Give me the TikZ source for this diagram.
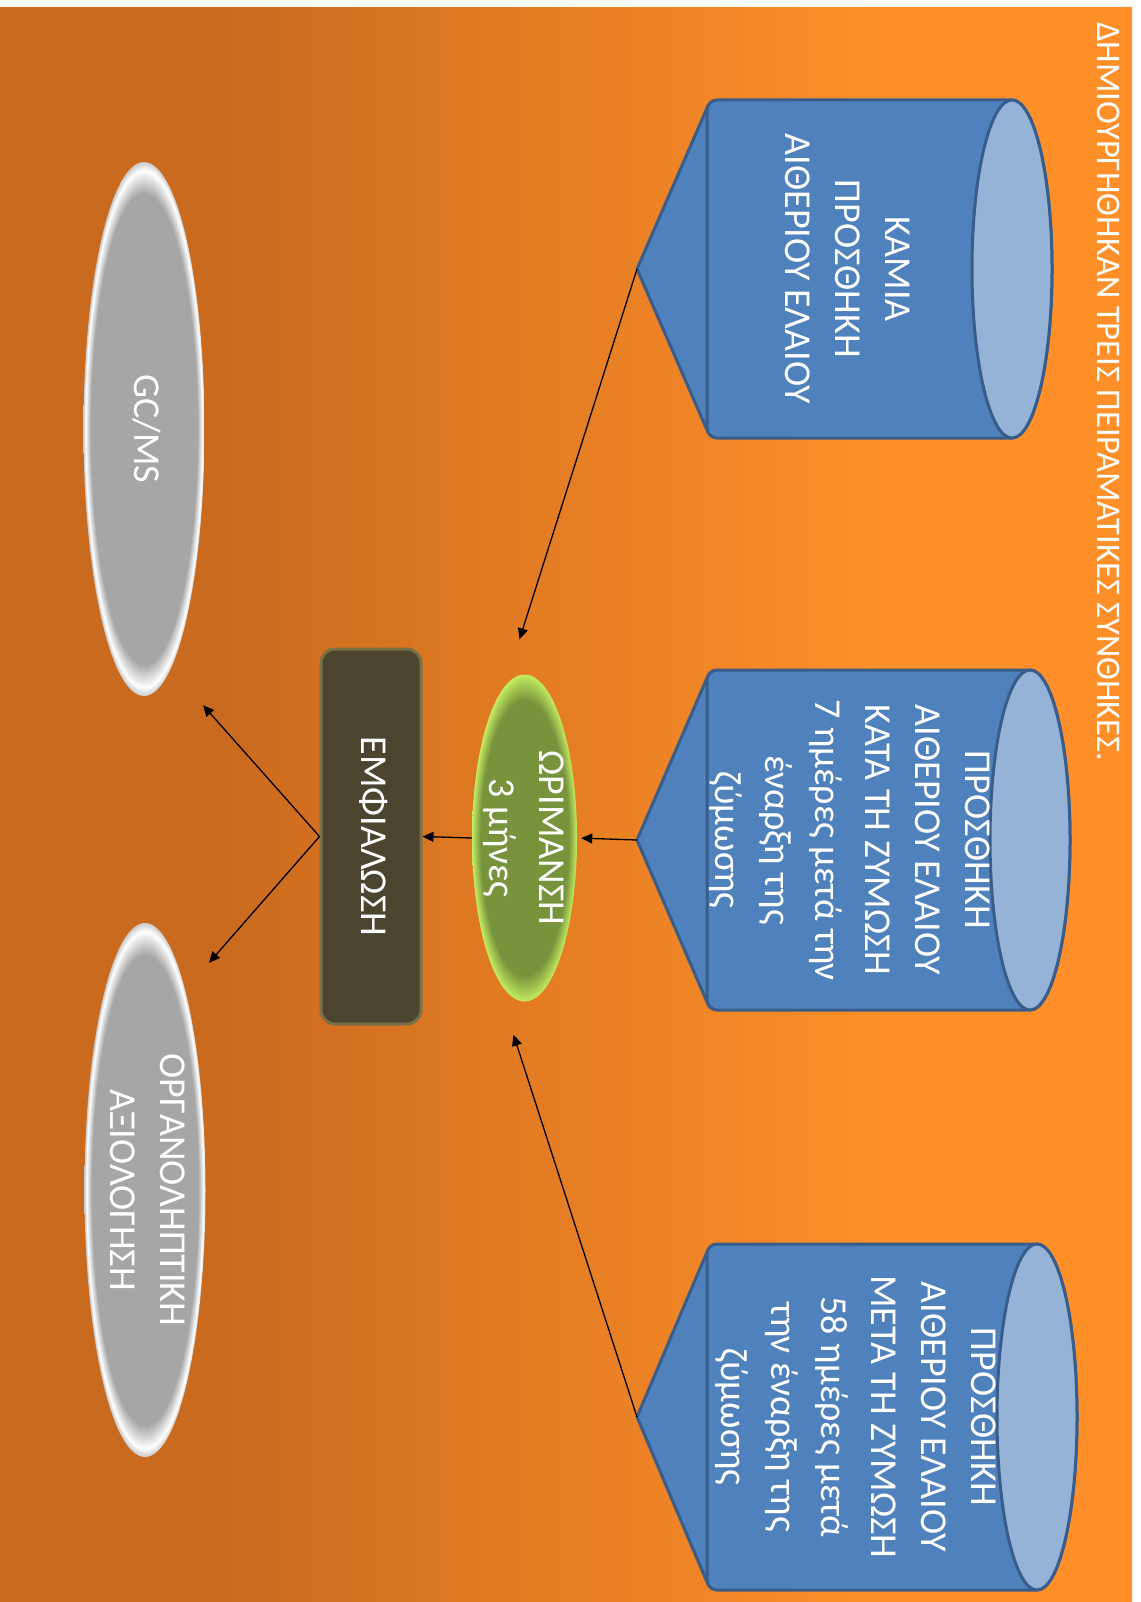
\documentclass[tikz,border=0pt]{standalone}
\usepackage{fontspec}
\setmainfont{Carlito}
\usepackage{graphicx}
\usetikzlibrary{arrows.meta,shapes.geometric,positioning,calc}
\definecolor{bgDark}{RGB}{202,106,30}
\definecolor{bgLight}{RGB}{254,143,41}
\definecolor{canBlue}{RGB}{79,129,189}
\definecolor{canEdge}{RGB}{56,93,138}
\definecolor{canTop}{RGB}{149,179,215}
\definecolor{ripeGreen}{RGB}{119,147,60}
\definecolor{ripeRim}{RGB}{196,236,98}
\definecolor{bottleDark}{RGB}{75,69,47}
\definecolor{bottleRim}{RGB}{122,112,72}
\definecolor{assayGray}{RGB}{166,166,166}
\pgfdeclarehorizontalshading{bgshade}{100bp}{color(0bp)=(bgDark); color(34.6bp)=(bgDark); color(63.5bp)=(bgLight); color(100bp)=(bgLight)}
\pgfdeclareradialshading{ripeshade}{\pgfpoint{0bp}{0bp}}{color(0bp)=(ripeGreen); color(21bp)=(ripeGreen); color(25bp)=(ripeRim); color(50bp)=(ripeRim)}
\pgfdeclareradialshading{assayshade}{\pgfpoint{0bp}{0bp}}{color(0bp)=(assayGray); color(22bp)=(assayGray); color(24.2bp)=(white); color(25bp)=(assayGray!60!white); color(50bp)=(assayGray!60!white)}
\tikzset{
  canbody/.style={draw=canEdge, line width=3pt, fill=canBlue, line join=round},
  cantop/.style={draw=canEdge, line width=3pt, fill=canTop},
  cantext/.style={text=white, inner sep=0pt, font=\fontsize{38}{50}\selectfont},
  ripe/.style={ellipse, shade, shading=ripeshade, minimum width=105pt, minimum height=327pt, inner sep=0pt},
  bottle/.style={rectangle, rounded corners=14pt, draw=bottleRim, line width=3pt, fill=bottleDark, minimum width=100pt, minimum height=375pt},
  assay/.style={ellipse, shade, shading=assayshade, minimum width=121pt, minimum height=534pt, inner sep=0pt},
  lbl/.style={text=white, inner sep=0pt, font=\fontsize{38}{50}\selectfont},
  heading/.style={text=white, inner sep=0pt, font=\fontsize{34.5}{40}\selectfont},
  arrow/.style={-{Triangle[length=11pt, width=10pt]}, line width=1.3pt}
}
\newcommand{\vtext}[1]{\rotatebox{-90}{\begin{tabular}{@{}c@{}}#1\end{tabular}}}

\begin{document}
\begin{tikzpicture}[x=1pt,y=1pt]
  \fill[white] (0,0) rectangle (1140,-1602);
  \shade[shading=bgshade] (0,-8) rectangle (1132,-1602);
  \node[heading, anchor=north] (heading) at (1109,-22) {\rotatebox{-90}{ΔΗΜΙΟΥΡΓΗΘΗΚΑΝ ΤΡΕΙΣ ΠΕΙΡΑΜΑΤΙΚΕΣ ΣΥΝΘΗΚΕΣ.}};

  % the three cans with their pointers
  \foreach \nm/\yt/\yb/\xe in {can1/100/438/1012, can2/670/1010/1030, can3/1244/1590/1037}{
    \pgfmathsetmacro{\ym}{(\yt+\yb)/2}
    \pgfmathsetmacro{\ry}{(\yb-\yt)/2}
    \coordinate (\nm tip) at (637,-\ym);
    \draw[canbody] (707,-\yt-8) -- (\nm tip) -- (707,-\yb+8);
    \draw[canbody] (\xe,-\yt) [rounded corners=10pt] -- (707,-\yt) -- (707,-\yb) [sharp corners] -- (\xe,-\yb) arc[start angle=-90, end angle=90, x radius=40, y radius=\ry] -- cycle;
    \draw[cantop] (\xe,-\ym) ellipse[x radius=40, y radius=\ry];
  }
  \node[cantext] (can1) at (845,-269) {\vtext{ΚΑΜΙΑ\\ΠΡΟΣΘΗΚΗ\\ΑΙΘΕΡΙΟΥ ΕΛΑΙΟΥ}};
  \node[cantext] (can2) at (850,-840) {\vtext{ΠΡΟΣΘΗΚΗ\\ΑΙΘΕΡΙΟΥ ΕΛΑΙΟΥ\\ΚΑΤΑ ΤΗ ΖΥΜΩΣΗ\\7 ημέρες μετά την\\έναρξη της\\ζύμωσης}};
  \node[cantext] (can3) at (856,-1417) {\vtext{ΠΡΟΣΘΗΚΗ\\ΑΙΘΕΡΙΟΥ ΕΛΑΙΟΥ\\ΜΕΤΑ ΤΗ ΖΥΜΩΣΗ\\58 ημέρες μετά\\την έναρξη της\\ζύμωσης}};

  \node[ripe, label={[lbl]center:\vtext{ΩΡΙΜΑΝΣΗ\\3 μήνες}}] (ripen) at (524.5,-838) {};
  \node[bottle, label={[lbl]center:\vtext{ΕΜΦΙΑΛΩΣΗ}}] (bottle) at (371,-836.5) {};
  \node[assay, label={[lbl]center:\vtext{GC/MS}}] (gcms) at (144,-429) {};
  \node[assay, label={[lbl]center:\vtext{ΟΡΓΑΝΟΛΗΠΤΙΚΗ\\ΑΞΙΟΛΟΓΗΣΗ}}] (sensory) at (145,-1190) {};

  \draw[arrow] (can1tip) -- ($(ripen.north)+(-5,35)$);
  \draw[arrow, shorten >=4pt] (can2tip) -- (ripen.east);
  \draw[arrow] (can3tip) -- ($(ripen.south)+(-11,-33)$);
  \draw[arrow] (ripen.west) -- (bottle.east);
  \draw[arrow] (bottle.west) -- ($(gcms.south)+(59,-9)$);
  \draw[arrow] (bottle.west) -- ($(sensory.north)+(64,-40)$);
\end{tikzpicture}
\end{document}
